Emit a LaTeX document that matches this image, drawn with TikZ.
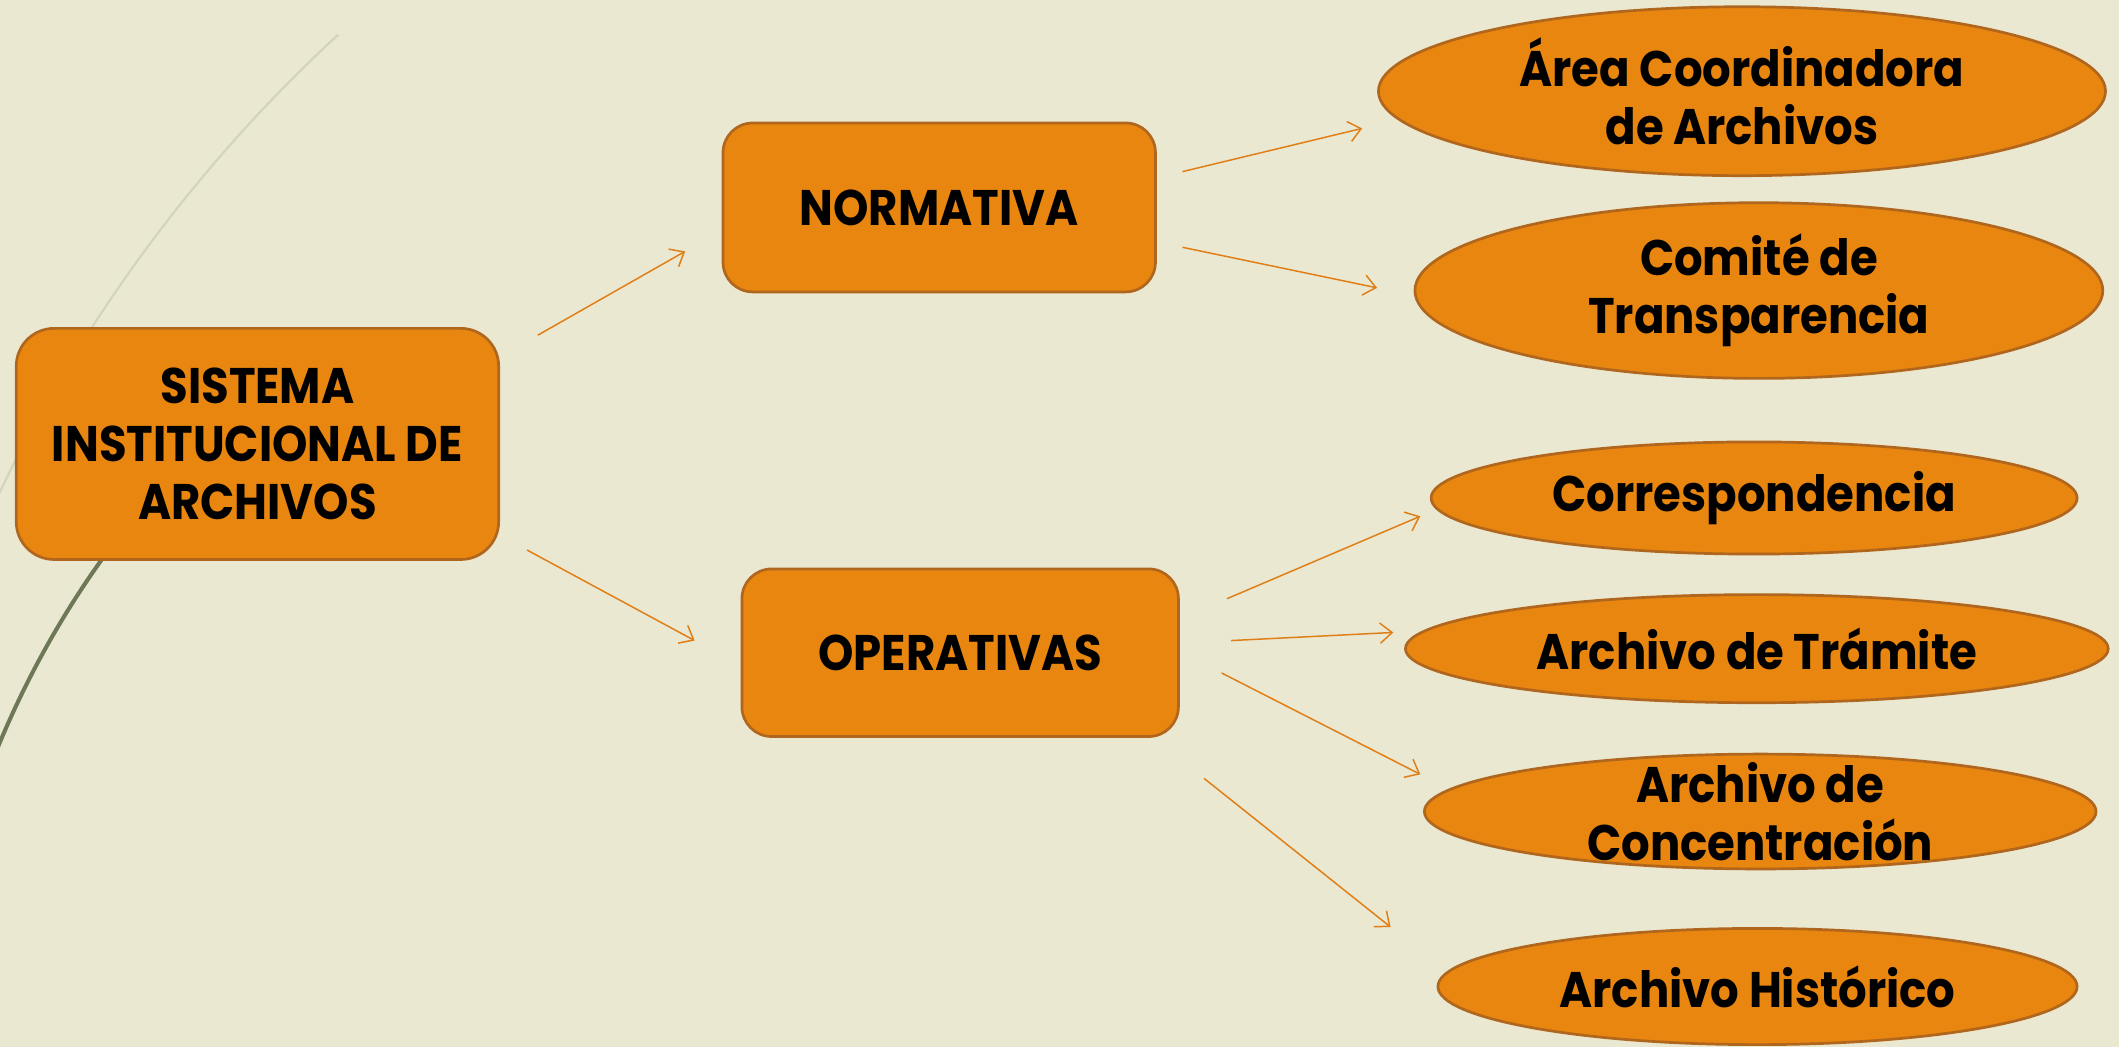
\documentclass[tikz,border=0pt]{standalone}
\usepackage{fontspec}
\setmainfont{Poppins}[FakeStretch=0.9]
\usetikzlibrary{shapes.geometric,arrows.meta}
\definecolor{bgc}{HTML}{EAE8D1}
\definecolor{orgc}{HTML}{E8860F}
\definecolor{orgd}{HTML}{B0661C}
\definecolor{arrc}{HTML}{E07E17}
\definecolor{lgc}{HTML}{D3D4BD}
\definecolor{dgc}{HTML}{6D7856}
\newcommand\dfont{\bfseries\fontsize{37}{43}\selectfont}
\begin{document}
\begin{tikzpicture}[x=1pt,y=1pt,
  box/.style={draw=orgd, fill=orgc, line width=2pt, rounded corners=22pt, inner sep=0pt, align=center, font=\dfont},
  ell/.style={ellipse, draw=orgd, fill=orgc, line width=2pt, inner sep=0pt},
  etxt/.style={align=center, font=\dfont, inner sep=0pt},
  conn/.style={draw=arrc, line width=1.1pt, -{Straight Barb[length=9pt,width=15pt]}}]
\fill[bgc] (0,0) rectangle (1568,-775);
\useasboundingbox (0,0) rectangle (1568,-775);
% background curves
\draw[lgc, line width=1.6pt] (1007.3,-847.3) ++(132.65:1117.3) arc[start angle=132.65, end angle=157, radius=1117.3];
\draw[dgc, line width=3pt] (636.6,-815.3) ++(140:690) arc[start angle=140, end angle=162, radius=690];
% nodes
\node[box, minimum width=357pt, minimum height=171pt, rounded corners=28pt] (sis) at (190.5,-328.5) {SISTEMA\\INSTITUCIONAL DE\\ARCHIVOS};
\node[box, minimum width=320pt, minimum height=125pt] (norm) at (695,-153.5) {NORMATIVA};
\node[box, minimum width=323pt, minimum height=124pt] (oper) at (710.5,-483) {OPERATIVAS};
\node[ell, minimum width=538pt, minimum height=125pt, label={[etxt]center:Área Coordinadora\\de Archivos}] (area) at (1289,-67.5) {};
\node[ell, minimum width=509pt, minimum height=130pt, label={[etxt]center:Comité de\\Transparencia}] (comite) at (1301.5,-215) {};
\node[ell, minimum width=478pt, minimum height=83pt, label={[etxt]center:Correspondencia}] (corr) at (1298,-368.5) {};
\node[ell, minimum width=520pt, minimum height=80pt, label={[etxt]center:Archivo de Trámite}] (tram) at (1300,-480) {};
\node[ell, minimum width=497pt, minimum height=85pt, label={[etxt]center:Archivo de\\Concentración}] (conc) at (1302.5,-600.5) {};
\node[ell, minimum width=473pt, minimum height=86pt, label={[etxt]center:Archivo Histórico}] (hist) at (1300.5,-730) {};
% connectors
\draw[conn] ([shift={(28,80.5)}]sis.east) -- ([shift={(-27,-32.5)}]norm.west);
\draw[conn] ([shift={(20,-78.5)}]sis.east) -- ([shift={(-34,9)}]oper.west);
\draw[conn] ([shift={(19,26.5)}]norm.east) -- ([shift={(-11,-27.5)}]area.west);
\draw[conn] ([shift={(19,-29.5)}]norm.east) -- ([shift={(-27,2)}]comite.west);
\draw[conn] ([shift={(35,40)}]oper.east) -- ([shift={(-7,-13.5)}]corr.west);
\draw[conn] ([shift={(38,9)}]oper.east) -- ([shift={(-8,12)}]tram.west);
\draw[conn] ([shift={(31,-15)}]oper.east) -- ([shift={(-2,27.5)}]conc.west);
\draw[conn] ([shift={(18,-93)}]oper.east) -- ([shift={(-34,44)}]hist.west);
\end{tikzpicture}
\end{document}
